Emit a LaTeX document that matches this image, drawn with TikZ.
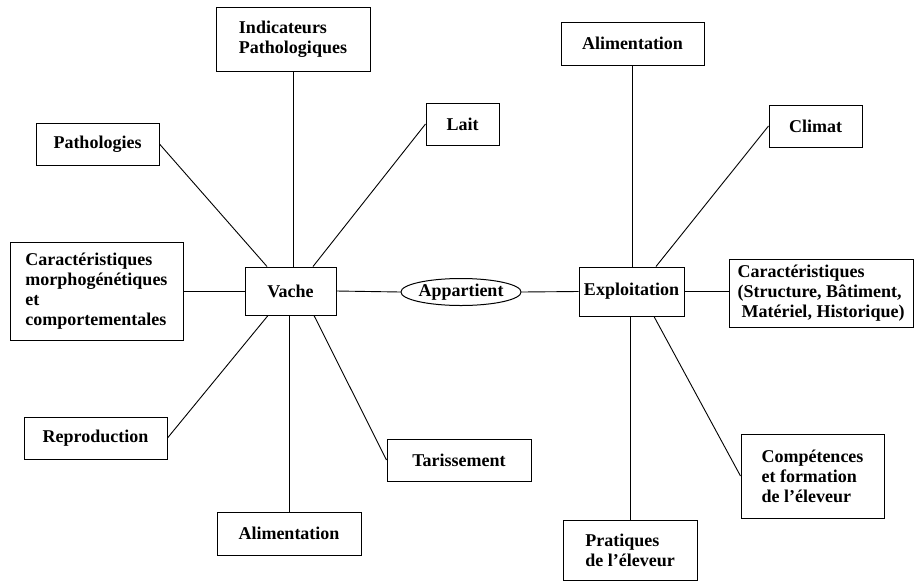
\documentclass[tikz,border=0pt]{standalone}
\usepackage{fontspec}
\setmainfont{Liberation Serif}
\usetikzlibrary{shapes.geometric}
\begin{document}
\begin{tikzpicture}[x=1pt,y=-1pt,
  box/.style={draw, line width=1pt, inner sep=0pt, align=left,
    font=\bfseries\fontsize{18}{20}\selectfont},
  oval/.style={draw, ellipse, line width=1pt, inner sep=0pt,
    font=\bfseries\fontsize{18}{20}\selectfont},
  link/.style={line width=0.9pt}]
\useasboundingbox (0,0) rectangle (916,582);
% left cluster
\node[box, minimum width=154pt, minimum height=64pt] (ind) at (293,39) {Indicateurs\\Pathologiques};
\node[box, minimum width=123pt, minimum height=42pt] (path) at (97.5,144) {Pathologies};
\node[box, minimum width=73pt, minimum height=42pt] (lait) at (462.5,124) {Lait};
\node[box, minimum width=173pt, minimum height=98pt] (car) at (96.5,291) {Caractéristiques\\morphogénétiques\\et\\comportementales};
\node[box, align=center, minimum width=91pt, minimum height=48pt] (vache) at (290.5,291) {Vache};
\node[box, minimum width=143pt, minimum height=42pt] (repro) at (95.5,438) {Reproduction};
\node[box, minimum width=144pt, minimum height=43pt] (alimb) at (289,533.5) {Alimentation};
\node[box, minimum width=144pt, minimum height=42pt] (tar) at (459,460) {Tarissement};
% middle
\node[oval, minimum width=114pt, minimum height=27pt] (app) at (461,292) {Appartient};
% right cluster
\node[box, align=center, minimum width=105pt, minimum height=49pt] (expl) at (631.5,291.5) {Exploitation};
\node[box, minimum width=184pt, minimum height=68pt] (carr) at (821,293) {Caractéristiques\\(Structure, Bâtiment,\\\hspace{4pt}Matériel, Historique)};
\node[box, minimum width=143pt, minimum height=43pt] (alimt) at (632.5,43.5) {Alimentation};
\node[box, minimum width=93pt, minimum height=42pt] (climat) at (815.5,126) {Climat};
\node[box, minimum width=143pt, minimum height=84pt] (comp) at (812.5,476) {Compétences\\et formation\\de l'éleveur};
\node[box, minimum width=134pt, minimum height=60pt] (prat) at (630,550) {Pratiques\\de l'éleveur};
% connectors
\draw[link] (ind.south) -- (ind.south |- vache.north);
\draw[link] (path.east) -- ([xshift=-23.5pt]vache.north);
\draw[link] (lait.west) -- ([xshift=22.5pt]vache.north);
\draw[link] (car.east |- vache.west) -- (vache.west);
\draw[link] (repro.east) -- ([xshift=-22.5pt]vache.south);
\draw[link] (alimb.north) -- (alimb.north |- vache.south);
\draw[link] (tar.west) -- ([xshift=23.5pt]vache.south);
\draw[link] (vache.east) -- (app.west);
\draw[link] (app.east) -- (expl.west);
\draw[link] (expl.east) -- (carr.west |- expl.east);
\draw[link] (alimt.south) -- (alimt.south |- expl.north);
\draw[link] (climat.west) -- ([xshift=24.5pt]expl.north);
\draw[link] (prat.north) -- (prat.north |- expl.south);
\draw[link] (comp.west) -- ([xshift=22.5pt]expl.south);
\end{tikzpicture}
\end{document}
